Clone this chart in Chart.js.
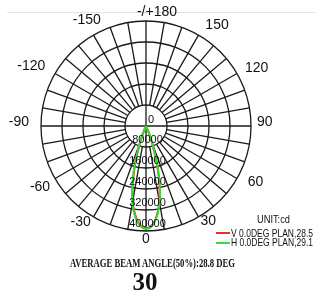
<!DOCTYPE html>
<html>
<head>
<meta charset="utf-8">
<script src="https://cdn.jsdelivr.net/npm/chart.js@4.4.1/dist/chart.umd.min.js"></script>
<style>
  html, body { margin: 0; padding: 0; background: #fff; }
  #wrap { position: relative; width: 315px; height: 298px; overflow: hidden; font-family: "Liberation Sans", Arial, sans-serif; color: #111; }
  #topLine { position: absolute; left: 7px; top: 12px; width: 308px; height: 1px; background: #e4e4e4; }
  #polar { position: absolute; left: 0; top: 0; }
  .fit { position: absolute; white-space: nowrap; line-height: 1; transform-origin: 0 50%; }
  .swatch { position: absolute; width: 14px; height: 2.5px; }
  .serif { font-family: "Liberation Serif", "Times New Roman", serif; font-weight: bold; }
</style>
</head>
<body>
<div id="wrap">
  <div id="topLine"></div>
  <canvas id="polar" width="315" height="298"></canvas>

  <div class="fit" id="unitLabel" style="left:257px; top:213.5px; font-size:10.5px;" data-w="33"></div>
  <div class="swatch" id="vSwatch" style="left:216px; top:231.8px;"></div>
  <div class="fit" id="vLabel" style="left:231px; top:227.8px; font-size:10.5px;" data-w="82"></div>
  <div class="swatch" id="hSwatch" style="left:216px; top:241.5px;"></div>
  <div class="fit" id="hLabel" style="left:231px; top:237.4px; font-size:10.5px;" data-w="82"></div>

  <div class="fit serif" id="avgLabel" style="left:70px; top:257px; font-size:12px;" data-w="165"></div>
  <div class="serif" id="bigLabel" style="position:absolute; left:95px; width:100px; top:269px; text-align:center; font-size:25px; line-height:1;"></div>
</div>

<script>
// beam angles (deg) and intensities (cd) of the two planes
const beamAngles = [-30, -28, -26, -24, -22, -20, -18, -16, -14, -12, -10, -8, -6, -4, -2, 0,
                    2, 4, 6, 8, 10, 12, 14, 16, 18, 20, 22, 24, 26, 28, 30];
const vPlane = [0, 1000, 4000, 13000, 31000, 60000, 98000, 150000, 199000, 248000, 290000, 325000, 353000, 373000, 385000, 389000,
                386000, 375000, 355000, 327000, 292000, 250000, 201000, 152000, 100000, 61000, 32000, 13000, 4000, 1000, 0];
const hPlane = [0, 1000, 5000, 15000, 34000, 64000, 105000, 160000, 209000, 257000, 298000, 331000, 358000, 377000, 388000, 392000,
                389000, 378000, 357000, 330000, 296000, 255000, 207000, 158000, 104000, 63000, 33000, 14000, 5000, 1000, 0];

const ringTicks = [0, 80000, 160000, 240000, 320000, 400000];
const seriesNames = ['V 0.0DEG PLAN,28.5', 'H 0.0DEG PLAN,29.1'];
const seriesColors = ['#e8302f', '#35dc35'];
const unitText = 'UNIT:cd';
const avgText = 'AVERAGE BEAM ANGLE(50%):28.8 DEG';
const bigText = '30';

const gridColor = '#1a1a1a';

// one spoke every 2 degrees, clockwise from the top (180 at top, 0 at bottom)
const degLabels = [];
for (let i = 0; i < 180; i++) degLabels.push(180 - 2 * i);

function planeData(values) {
    return degLabels.map(d => {
        const j = beamAngles.indexOf(d);
        return j < 0 ? null : values[j];
    });
}

// the original drawing places a few angle labels a little off the circle
const labelNudge = {
    '180': [11, 1.5], '150': [10, 0], '-150': [3, -5], '120': [4, 2], '-120': [-6, 0],
    '90': [-2, 0], '-90': [-4, 0], '60': [7, 0], '-60': [-1.5, 5], '30': [4, -3], '-30': [-6, -2]
};

const polarGuides = {
    id: 'polarGuides',
    beforeDatasetsDraw(chart) {
        const r = chart.scales.r;
        const ctx = chart.ctx;
        const inner = r.getDistanceFromCenterForValue(ringTicks[1]);
        const outer = r.drawingArea;
        ctx.save();
        ctx.strokeStyle = gridColor;
        ctx.lineWidth = 1.3;
        degLabels.forEach((deg, i) => {
            if (deg % 10 !== 0) return;
            const a = r.getPointPosition(i, deg % 90 === 0 ? 0 : inner);
            const b = r.getPointPosition(i, outer);
            ctx.beginPath();
            ctx.moveTo(a.x, a.y);
            ctx.lineTo(b.x, b.y);
            ctx.stroke();
        });
        ctx.restore();
    },
    afterDatasetsDraw(chart) {
        const r = chart.scales.r;
        const ctx = chart.ctx;
        ctx.save();
        ctx.fillStyle = '#111';
        ctx.textAlign = 'center';
        ctx.textBaseline = 'middle';

        // angle labels every 30 degrees
        ctx.font = '14px "Liberation Sans", Arial, sans-serif';
        degLabels.forEach((deg, i) => {
            if (deg % 30 !== 0) return;
            const text = deg === 180 ? '-/+180' : String(deg);
            const p = r.getPointPosition(i, 1);
            const ux = p.x - r.xCenter;
            const uy = p.y - r.yCenter;
            const halfW = ctx.measureText(text).width / 2;
            const pad = uy > 0 ? 8 - 5 * uy : 8 + 3 * uy;
            const dist = r.drawingArea + pad;
            const nudge = labelNudge[String(deg)] || [0, 0];
            const x = r.xCenter + ux * dist + ux * halfW + nudge[0];
            const y = r.yCenter + uy * dist + uy * 5 - 4 * (1 - Math.abs(uy)) + nudge[1];
            ctx.fillText(text, x, y);
        });

        // ring values down the 0 degree axis
        ctx.font = '11px "Liberation Sans", Arial, sans-serif';
        ringTicks.forEach(v => {
            const d = r.getDistanceFromCenterForValue(v);
            if (v === 0) {
                ctx.fillText('0', r.xCenter + 5, r.yCenter - 6);
            } else {
                ctx.fillText(String(v), r.xCenter + 1.5, r.yCenter + d - 7);
            }
        });
        ctx.restore();
    }
};

new Chart(document.getElementById('polar'), {
    type: 'radar',
    data: {
        labels: degLabels,
        datasets: [
            {
                label: seriesNames[0],
                data: planeData(vPlane),
                borderColor: seriesColors[0],
                borderWidth: 2,
                fill: false,
                pointRadius: 0,
                tension: 0.2,
                spanGaps: false,
                order: 1
            },
            {
                label: seriesNames[1],
                data: planeData(hPlane),
                borderColor: seriesColors[1],
                borderWidth: 2,
                fill: false,
                pointRadius: 0,
                tension: 0.2,
                spanGaps: false,
                order: 0
            }
        ]
    },
    options: {
        responsive: false,
        animation: false,
        events: [],
        layout: { padding: { left: 41, top: 21, right: 64, bottom: 67 } },
        plugins: {
            legend: { display: false },
            tooltip: { enabled: false }
        },
        scales: {
            r: {
                min: 0,
                max: 400000,
                ticks: { display: false, stepSize: 80000 },
                grid: { circular: true, color: gridColor, lineWidth: 1.3 },
                angleLines: { display: false },
                pointLabels: { display: false }
            }
        }
    },
    plugins: [polarGuides]
});

// legend and captions
document.getElementById('vSwatch').style.background = seriesColors[0];
document.getElementById('hSwatch').style.background = seriesColors[1];
document.getElementById('unitLabel').textContent = unitText;
document.getElementById('vLabel').textContent = seriesNames[0];
document.getElementById('hLabel').textContent = seriesNames[1];
document.getElementById('avgLabel').textContent = avgText;
document.getElementById('bigLabel').textContent = bigText;

// squeeze the narrow captions to their width
document.querySelectorAll('.fit').forEach(el => {
    const target = parseFloat(el.dataset.w);
    const w = el.getBoundingClientRect().width;
    if (target && w) el.style.transform = 'scaleX(' + (target / w) + ')';
});
</script>
</body>
</html>
